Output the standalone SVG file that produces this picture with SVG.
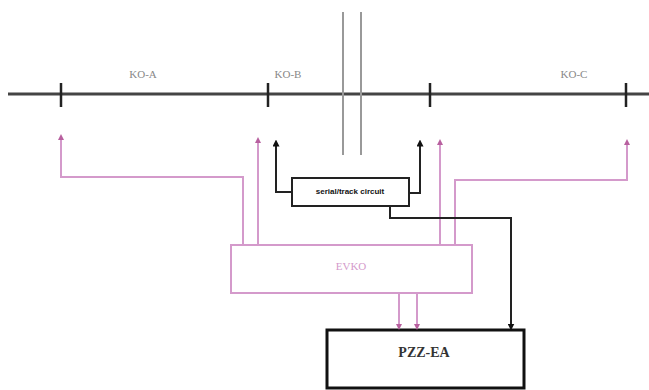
<svg xmlns="http://www.w3.org/2000/svg" width="649" height="390" viewBox="0 0 649 390">
<defs>
<marker id="ap" markerWidth="6" markerHeight="6" refX="3" refY="3" orient="auto" markerUnits="userSpaceOnUse"><path d="M0,0 L6,3 L0,6 Z" fill="#b8609f"/></marker>
<marker id="ab" markerWidth="7" markerHeight="7" refX="3.5" refY="3.5" orient="auto" markerUnits="userSpaceOnUse"><path d="M0,0 L7,3.5 L0,7 Z" fill="#111"/></marker>
</defs>
<style>
.track{stroke:#444;stroke-width:3;fill:none}
.tick{stroke:#222;stroke-width:2.5;fill:none}
.rail{stroke:#999;stroke-width:2;fill:none}
.pk{stroke:#d49acb;stroke-width:2;fill:none}
.bk{stroke:#222;stroke-width:2;fill:none}
.lbl{font-family:"Liberation Serif",serif;font-size:11px;fill:#888;text-anchor:middle}
</style>
<rect width="649" height="390" fill="#fff"/>
<g id="track">
<line class="track" x1="8" y1="94" x2="649" y2="94"/>
<line class="tick" x1="61" y1="83" x2="61" y2="107"/>
<line class="tick" x1="268" y1="83" x2="268" y2="107"/>
<line class="tick" x1="430" y1="83" x2="430" y2="107"/>
<line class="tick" x1="626" y1="83" x2="626" y2="107"/>
<line class="rail" x1="343" y1="12" x2="343" y2="155"/>
<line class="rail" x1="361" y1="12" x2="361" y2="155"/>
<text class="lbl" x="143" y="78">KO-A</text>
<text class="lbl" x="288" y="78">KO-B</text>
<text class="lbl" x="574" y="78">KO-C</text>
</g>
<g id="evko">
<rect x="231" y="245" width="241" height="48" fill="none" stroke="#d49acb" stroke-width="2"/>
<text x="351" y="270" font-family="Liberation Serif,serif" font-size="11" fill="#d49acb" text-anchor="middle">EVKO</text>
</g>
<g id="serial">
<rect x="292" y="178" width="117" height="28" fill="#fff" stroke="#222" stroke-width="2"/>
<text x="350" y="194" font-family="Liberation Sans,sans-serif" font-size="8" font-weight="bold" fill="#111" text-anchor="middle">serial/track circuit</text>
</g>
<g id="pzz">
<rect x="327" y="330" width="197" height="58" fill="#fff" stroke="#111" stroke-width="3"/>
<text x="424" y="357" font-family="Liberation Serif,serif" font-size="14" font-weight="bold" fill="#333" text-anchor="middle">PZZ-EA</text>
</g>
<g id="connectors">
<polyline class="pk" points="243,245 243,177 61,177 61,137" marker-end="url(#ap)"/>
<polyline class="pk" points="258,245 258,140" marker-end="url(#ap)"/>
<polyline class="pk" points="440,245 440,142" marker-end="url(#ap)"/>
<polyline class="pk" points="455,245 455,180 627,180 627,142" marker-end="url(#ap)"/>
<polyline class="pk" points="399,293 399,327" marker-end="url(#ap)"/>
<polyline class="pk" points="417,293 417,327" marker-end="url(#ap)"/>
<polyline class="bk" points="292,192 276,192 276,143" marker-end="url(#ab)"/>
<polyline class="bk" points="409,193 420,193 420,143" marker-end="url(#ab)"/>
<polyline class="bk" points="390,206 390,218 511,218 511,327" marker-end="url(#ab)"/>
</g>
</svg>
